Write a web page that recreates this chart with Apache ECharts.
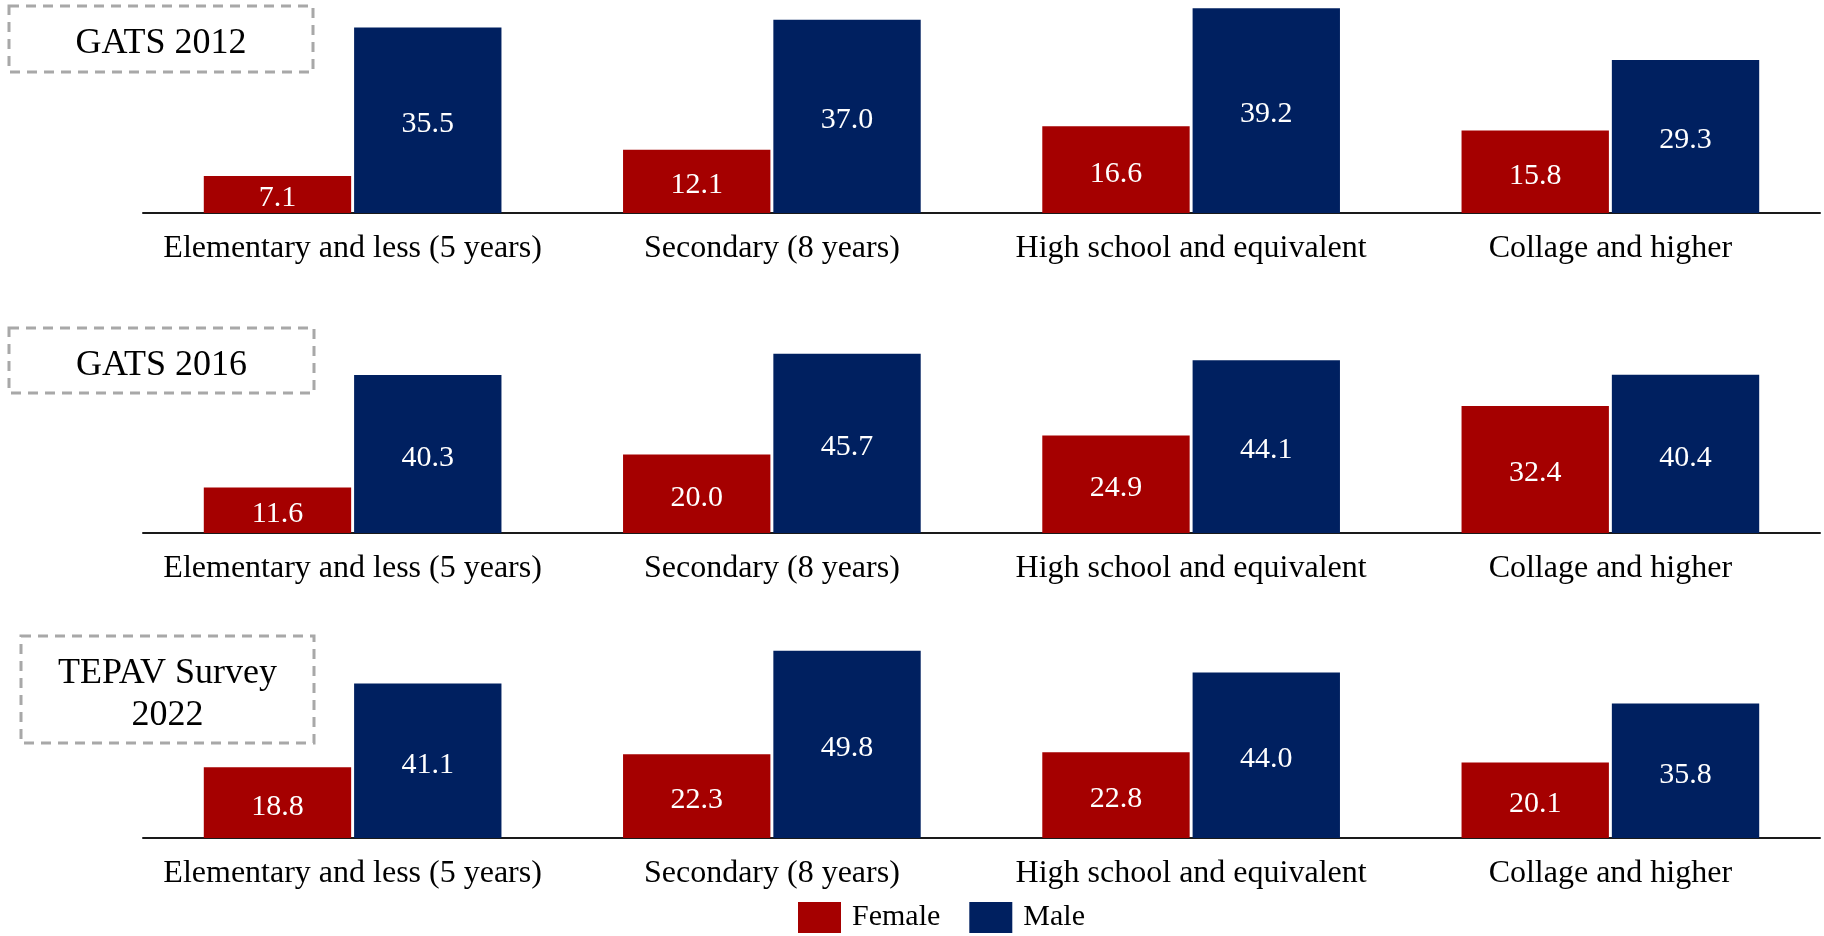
<!DOCTYPE html>
<html>
<head>
<meta charset="utf-8">
<script src="https://cdn.jsdelivr.net/npm/echarts@6/dist/echarts.min.js"></script>
<style>
  html, body { margin: 0; padding: 0; background: #fff; }
  #chart { width: 1824px; height: 936px; }
</style>
</head>
<body>
<div id="chart"></div>
<script>
// Education levels shown on every panel
const categories = [
  'Elementary and less (5 years)',
  'Secondary (8 years)',
  'High school and equivalent',
  'Collage and higher'
];

// Survey waves (panel titles)
const surveyTitles = ['GATS 2012', 'GATS 2016', 'TEPAV Survey\n2022'];

// Smoking prevalence (%) by sex
const female2012 = [7.1, 12.1, 16.6, 15.8];
const male2012   = [35.5, 37.0, 39.2, 29.3];
const female2016 = [11.6, 20.0, 24.9, 32.4];
const male2016   = [40.3, 45.7, 44.1, 40.4];
const female2022 = [18.8, 22.3, 22.8, 20.1];
const male2022   = [41.1, 49.8, 44.0, 35.8];

const seriesNames = ['Female', 'Male'];

const FEMALE = '#A50000';
const MALE = '#002060';
const FONT = '"Liberation Serif", "Times New Roman", serif';

// Layout of each panel: grid placement, y-axis ceiling, title box
const panels = [
  { female: female2012, male: male2012, top: 4,   bottom: 723, yMax: 40,
    box: { x: 9,  y: 6,   w: 304, h: 66 } },
  { female: female2016, male: male2016, top: 337, bottom: 403, yMax: 50,
    box: { x: 9,  y: 328, w: 305, h: 65 } },
  { female: female2022, male: male2022, top: 650, bottom: 98,  yMax: 50,
    box: { x: 21, y: 636, w: 293, h: 107 } }
];

const grid = [], xAxis = [], yAxis = [], series = [], graphic = [];

const valueLabel = {
  show: true,
  position: 'inside',
  offset: [0, 4],
  color: '#fff',
  fontFamily: FONT,
  fontSize: 30,
  formatter: p => p.value.toFixed(1)
};

panels.forEach((p, i) => {
  grid.push({ left: 143, right: 4, top: p.top, bottom: p.bottom, containLabel: false });
  xAxis.push({
    type: 'category',
    gridIndex: i,
    data: categories,
    axisLine: { show: true, lineStyle: { color: '#1a1a1a', width: 2 } },
    axisTick: { show: false },
    axisLabel: { color: '#000', fontFamily: FONT, fontSize: 32, margin: 20, interval: 0 }
  });
  yAxis.push({
    type: 'value',
    gridIndex: i,
    min: 0,
    max: p.yMax,
    show: false,
    splitLine: { show: false }
  });
  series.push({
    name: seriesNames[0], type: 'bar', xAxisIndex: i, yAxisIndex: i,
    data: p.female, itemStyle: { color: FEMALE },
    barCategoryGap: '29%', barGap: '2%',
    label: valueLabel
  });
  series.push({
    name: seriesNames[1], type: 'bar', xAxisIndex: i, yAxisIndex: i,
    data: p.male, itemStyle: { color: MALE },
    barCategoryGap: '29%', barGap: '2%',
    label: valueLabel
  });
  // Dashed title box for the survey wave
  graphic.push({
    type: 'rect',
    shape: { x: p.box.x, y: p.box.y, width: p.box.w, height: p.box.h },
    style: { fill: 'none', stroke: '#a8a8a8', lineWidth: 3, lineDash: [10, 7] },
    textContent: {
      style: {
        text: surveyTitles[i],
        fontFamily: FONT,
        fontSize: 36,
        lineHeight: 42,
        fill: '#000',
        align: 'center'
      }
    },
    textConfig: { position: 'inside', offset: [0, 5] }
  });
});

const chart = echarts.init(document.getElementById('chart'), null, { renderer: 'canvas' });
chart.setOption({
  backgroundColor: '#fff',
  animation: false,
  grid, xAxis, yAxis, series, graphic,
  legend: {
    data: seriesNames,
    left: 793,
    top: 897,
    icon: 'rect',
    itemWidth: 43,
    itemHeight: 31,
    itemGap: 29,
    textStyle: { color: '#000', fontFamily: FONT, fontSize: 30, padding: [0, 0, 0, 6] }
  }
});
</script>
</body>
</html>
